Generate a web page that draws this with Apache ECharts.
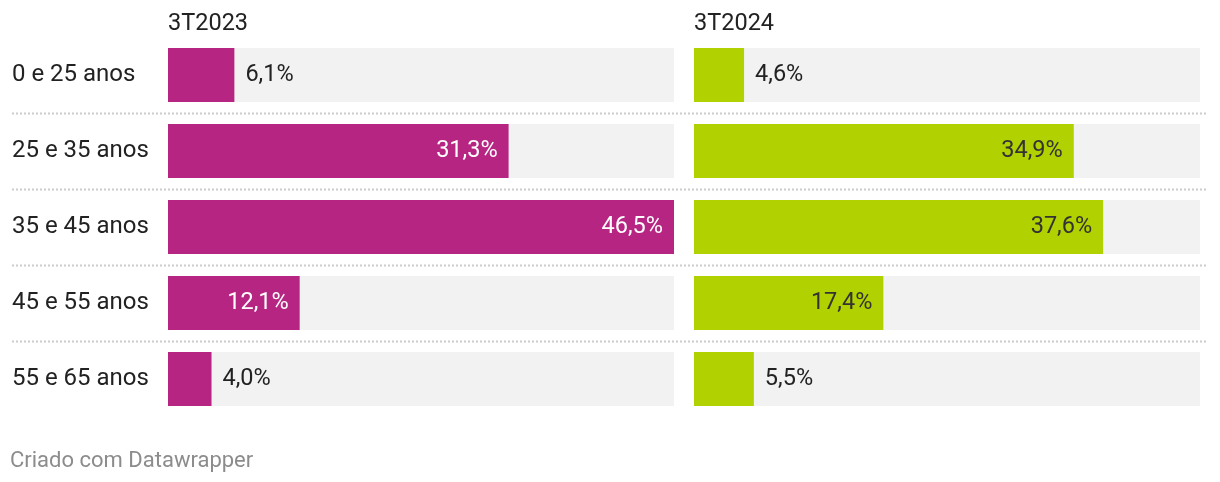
<!DOCTYPE html>
<html><head><meta charset="utf-8">
<script src="https://cdn.jsdelivr.net/npm/echarts@6/dist/echarts.min.js"></script>
<style>html,body{margin:0;padding:0;background:#fff}#c{width:1220px;height:482px}</style>
</head><body><div id="c"></div>
<script>
const categories = ['0 e 25 anos','25 e 35 anos','35 e 45 anos','45 e 55 anos','55 e 65 anos'];
const seriesNames = ['3T2023','3T2024'];
const values2023 = [6.1, 31.3, 46.5, 12.1, 4.0];
const values2024 = [4.6, 34.9, 37.6, 17.4, 5.5];
const footer = 'Criado com Datawrapper';

const FONT = 'Roboto';
const xMax = 46.5;
const fmt = v => v.toFixed(1).replace('.', ',') + '%';

function itemData(vals, insideColor) {
  return vals.map(v => {
    const inside = v > 10;
    return {
      value: v,
      label: inside
        ? {position: 'insideRight', color: insideColor, distance: 11}
        : {position: 'right', color: '#222', distance: 11}
    };
  });
}

const gridCommon = {top: 37, height: 380};
const chart = echarts.init(document.getElementById('c'), null, {renderer: 'canvas'});
const option = {
  animation: false,
  textStyle: {fontFamily: FONT},
  title: [
    {text: seriesNames[0], left: 163, top: 7, padding: 5, textStyle: {fontFamily: FONT, fontSize: 23.5, fontWeight: 'normal', color: '#222'}},
    {text: seriesNames[1], left: 689, top: 7, padding: 5, textStyle: {fontFamily: FONT, fontSize: 23.5, fontWeight: 'normal', color: '#222'}},
    {text: footer, left: 5, top: 445, padding: 5, textStyle: {fontFamily: FONT, fontSize: 22, fontWeight: 'normal', color: '#8c8c8c'}}
  ],
  grid: [
    Object.assign({left: 168, width: 506}, gridCommon),
    Object.assign({left: 694, width: 506}, gridCommon)
  ],
  xAxis: [0, 1].map(i => ({type: 'value', gridIndex: i, min: 0, max: xMax, show: false})),
  yAxis: [0, 1].map(i => ({
    type: 'category', gridIndex: i, data: categories, inverse: true,
    axisLine: {show: false}, axisTick: {show: false}, splitLine: {show: false},
    axisLabel: i === 0
      ? {show: true, align: 'left', margin: 156, fontFamily: FONT, fontSize: 24, color: '#222'}
      : {show: false}
  })),
  series: [
    {
      type: 'bar', name: seriesNames[0], xAxisIndex: 0, yAxisIndex: 0,
      data: itemData(values2023, '#ffffff'), barWidth: 54,
      itemStyle: {color: '#b72583'},
      showBackground: true, backgroundStyle: {color: '#f2f2f2'},
      label: {show: true, fontFamily: FONT, fontSize: 23.5, formatter: p => fmt(p.value)}
    },
    {
      type: 'bar', name: seriesNames[1], xAxisIndex: 1, yAxisIndex: 1,
      data: itemData(values2024, '#333333'), barWidth: 54,
      itemStyle: {color: '#b1d101'},
      showBackground: true, backgroundStyle: {color: '#f2f2f2'},
      label: {show: true, fontFamily: FONT, fontSize: 23.5, formatter: p => fmt(p.value)}
    }
  ]
};
chart.setOption(option);

// dotted separators between rows, positioned from the category scale
const seps = [];
for (let i = 0; i < categories.length - 1; i++) {
  const a = chart.convertToPixel({yAxisIndex: 0}, categories[i]);
  const b = chart.convertToPixel({yAxisIndex: 0}, categories[i + 1]);
  const y = Math.round((a + b) / 2) + 0.5;
  seps.push({
    type: 'line', silent: true,
    shape: {x1: 12, y1: y, x2: 1208, y2: y},
    style: {stroke: '#cccccc', lineWidth: 2, lineDash: [2, 2]}
  });
}
chart.setOption({graphic: seps});
</script></body></html>
